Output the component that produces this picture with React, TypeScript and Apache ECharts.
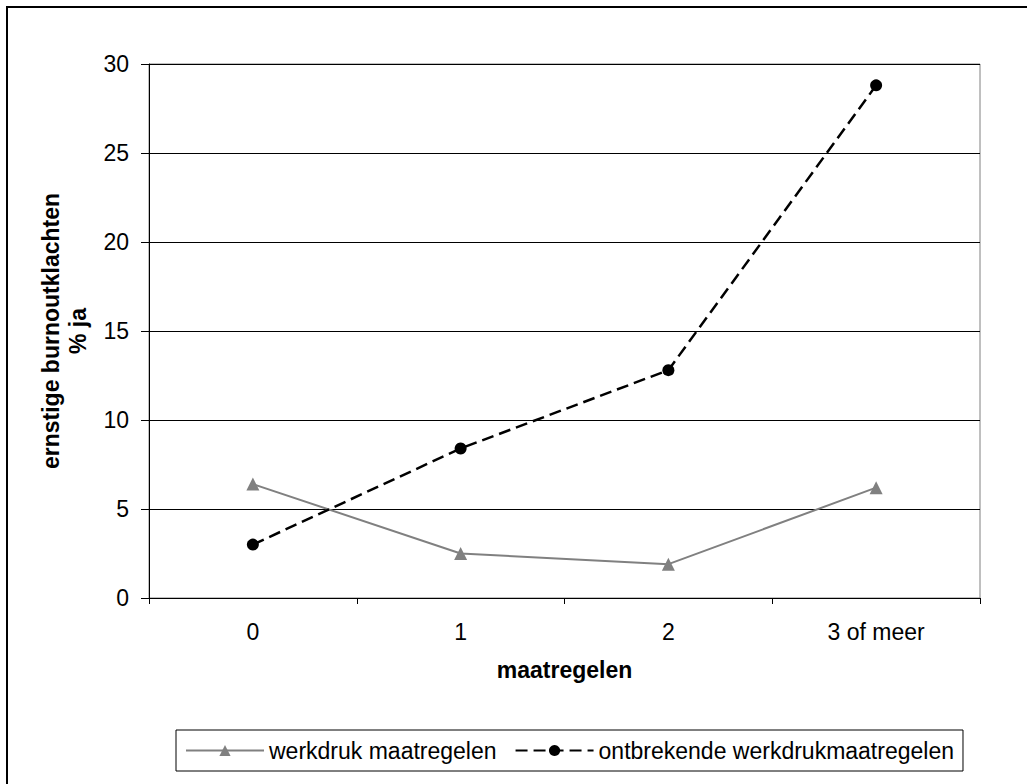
import React, { useEffect, useRef } from "react";
import * as echarts from "echarts";

const categories = ["0", "1", "2", "3 of meer"];
const werkdruk = [6.4, 2.5, 1.9, 6.2];
const ontbrekend = [3.0, 8.4, 12.8, 28.8];
const seriesNames = ["werkdruk maatregelen", "ontbrekende werkdrukmaatregelen"];
const yTitle = "ernstige burnoutklachten\n% ja";
const xTitle = "maatregelen";

const FONT = "Arial, 'Liberation Sans', sans-serif";

export default function App() {
  const ref = useRef<HTMLDivElement>(null);
  useEffect(() => {
    if (!ref.current) return;
    const chart = echarts.init(ref.current, null, { renderer: "svg" });
    chart.setOption({
      animation: false,
      backgroundColor: "#fff",
      textStyle: { fontFamily: FONT, color: "#000" },
      grid: {
        left: 149,
        right: 47,
        top: 64,
        bottom: 186,
        show: true,
        borderColor: "#808080",
        borderWidth: 1,
      },
      graphic: [
        {
          type: "rect",
          shape: { x: 7, y: 7, width: 1060, height: 820 },
          style: { fill: "none", stroke: "#000", lineWidth: 2 },
          silent: true,
        },
      ],
      legend: {
        left: 176,
        top: 730,
        orient: "horizontal",
        padding: [9, 9, 9, 9],
        borderColor: "#000",
        borderWidth: 1,
        itemWidth: 78,
        itemHeight: 14,
        itemGap: 18,
        textStyle: { fontSize: 23, fontFamily: FONT, color: "#000" },
        data: seriesNames,
      },
      xAxis: {
        type: "category",
        data: categories,
        boundaryGap: true,
        name: xTitle,
        nameLocation: "middle",
        nameGap: 60,
        nameTextStyle: { fontSize: 23, fontWeight: "bold", color: "#000", fontFamily: FONT },
        axisLine: { lineStyle: { color: "#000", width: 1 } },
        axisTick: { show: true, length: 6, lineStyle: { color: "#000" } },
        axisLabel: { fontSize: 23, color: "#000", margin: 22, fontFamily: FONT },
        splitLine: { show: false },
      },
      yAxis: {
        type: "value",
        min: 0,
        max: 30,
        interval: 5,
        name: yTitle,
        nameLocation: "middle",
        nameGap: 58,
        nameTextStyle: {
          fontSize: 23,
          fontWeight: "bold",
          color: "#000",
          lineHeight: 27,
          fontFamily: FONT,
        },
        axisLine: { show: true, lineStyle: { color: "#000", width: 1 } },
        axisTick: { show: true, length: 8, lineStyle: { color: "#000" } },
        axisLabel: { fontSize: 23, color: "#000", margin: 20, fontFamily: FONT },
        splitLine: { show: true, lineStyle: { color: "#000", width: 1 } },
      },
      series: [
        {
          name: seriesNames[0],
          type: "line",
          data: werkdruk,
          symbol: "triangle",
          symbolSize: 13,
          itemStyle: { color: "#808080" },
          lineStyle: { color: "#808080", width: 2 },
        },
        {
          name: seriesNames[1],
          type: "line",
          data: ontbrekend,
          symbol: "circle",
          symbolSize: 12,
          itemStyle: { color: "#000" },
          lineStyle: { color: "#000", width: 2.5, type: [12, 6] },
        },
      ],
    });
    return () => chart.dispose();
  }, []);
  return (
    <div
      ref={ref}
      style={{ position: "fixed", left: 0, top: 0, width: 1027, height: 784, background: "#fff" }}
    />
  );
}
